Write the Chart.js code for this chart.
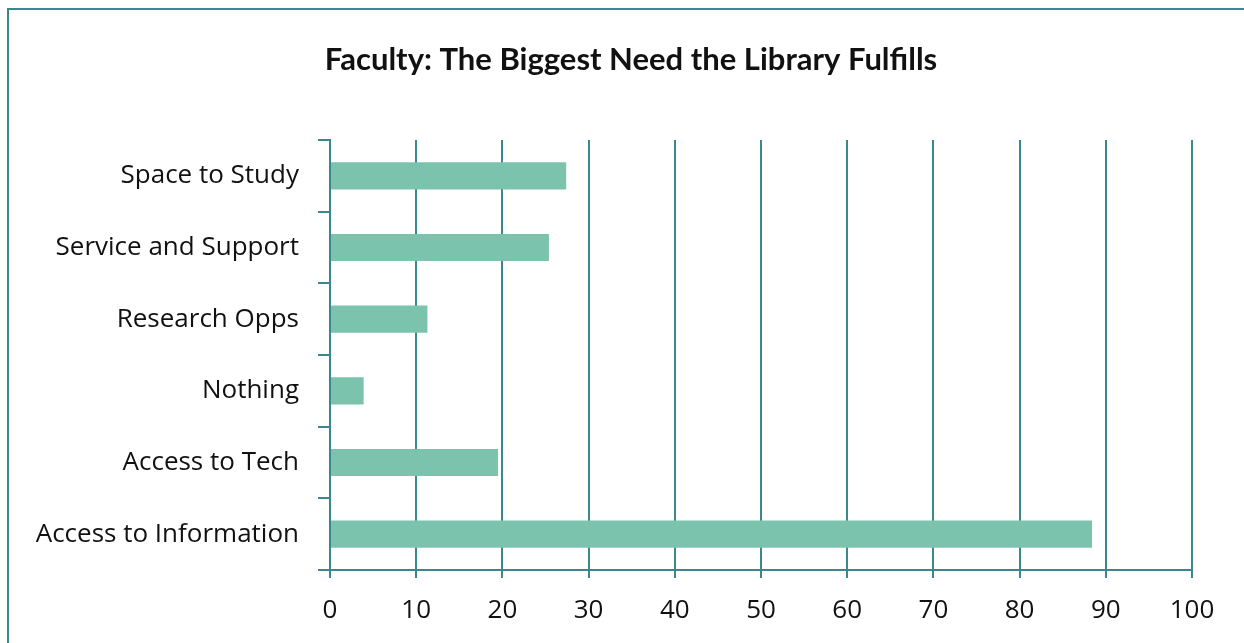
<!DOCTYPE html>
<html>
<head>
<meta charset="utf-8">
<script src="https://cdn.jsdelivr.net/npm/chart.js@4/dist/chart.umd.min.js"></script>
<style>
  html, body { margin: 0; padding: 0; background: #fff; overflow: hidden; }
  #wrap { position: relative; width: 1244px; height: 643px; }
  #frame { position: absolute; left: 7px; top: 8px; width: 1300px; height: 700px;
           border-top: 2px solid #3a878e; border-left: 2px solid #3a878e; }
  canvas { position: absolute; left: 0; top: 0; }
</style>
</head>
<body>
<div id="wrap">
  <div id="frame"></div>
  <canvas id="chart" width="1244" height="643"></canvas>
</div>
<script>
// kategori dan nilai (persen)
const categories = ['Space to Study', 'Service and Support', 'Research Opps', 'Nothing', 'Access to Tech', 'Access to Information'];
const values = [27.4, 25.4, 11.3, 3.9, 19.5, 88.4];
const xTicks = [0, 10, 20, 30, 40, 50, 60, 70, 80, 90, 100];
const chartTitle = 'Faculty: The Biggest Need the Library Fulfills';

const teal = '#3a878e';
const barColor = '#7bc3ac';

// judul digambar sendiri supaya posisinya sama dengan gambar asli
const titlePlugin = {
  id: 'fixedTitle',
  afterDraw(chart) {
    const c = chart.ctx;
    c.save();
    c.font = 'bold 31px Lato';
    c.fillStyle = '#111';
    c.textAlign = 'center';
    c.textBaseline = 'middle';
    c.fillText(chartTitle, 631, 60);
    c.restore();
  }
};

function createChart() {
  const ctx = document.getElementById('chart').getContext('2d');
  new Chart(ctx, {
    type: 'bar',
    data: {
      labels: categories,
      datasets: [{
        label: 'Faculty',
        data: values,
        backgroundColor: barColor,
        borderWidth: 0,
        categoryPercentage: 1,
        barPercentage: 0.38
      }]
    },
    options: {
      indexAxis: 'y',
      responsive: false,
      animation: false,
      layout: { padding: { left: 0, right: 52, top: 140, bottom: 0 } },
      plugins: {
        legend: { display: false },
        tooltip: { enabled: false },
        title: { display: false }
      },
      scales: {
        x: {
          min: 0,
          max: 100,
          afterBuildTicks: axis => { axis.ticks = xTicks.map(v => ({ value: v })); },
          afterFit: axis => { axis.height = 73; },
          border: { display: true, color: teal, width: 2 },
          grid: { color: teal, lineWidth: 2, tickLength: 8, drawOnChartArea: true },
          ticks: { color: '#111', padding: 17, font: { family: 'Open Sans', size: 26 }, maxRotation: 0 }
        },
        y: {
          afterFit: axis => { axis.width = 330; },
          border: { display: true, color: teal, width: 2 },
          grid: { offset: true, color: teal, lineWidth: 2, tickLength: 12, drawOnChartArea: false },
          ticks: { color: '#111', padding: 19, font: { family: 'Open Sans', size: 26 } }
        }
      }
    },
    plugins: [titlePlugin]
  });
}

createChart();
</script>
</body>
</html>
